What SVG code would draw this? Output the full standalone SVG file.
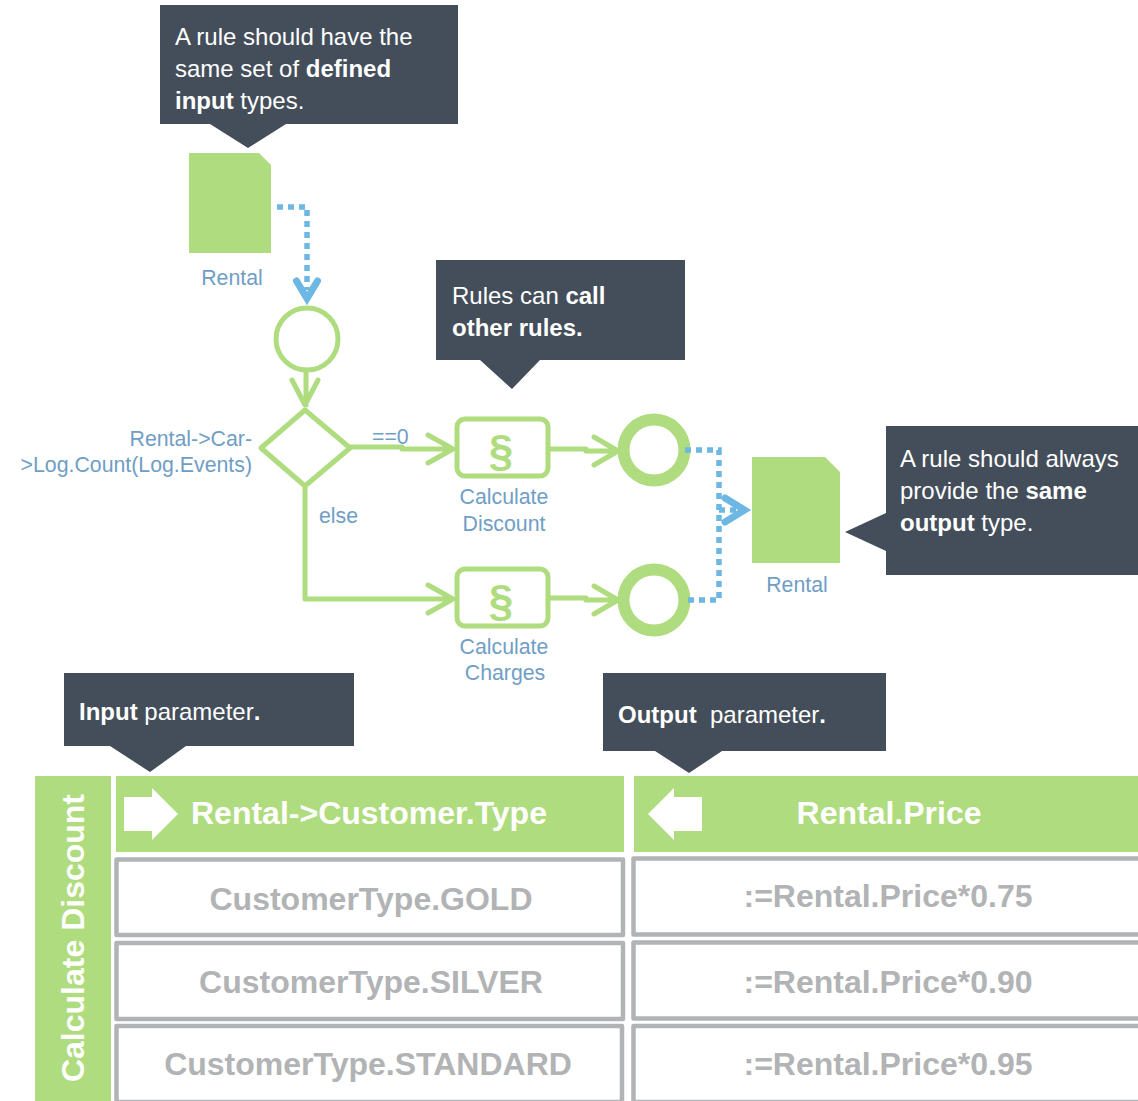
<svg xmlns="http://www.w3.org/2000/svg" width="1138" height="1101" viewBox="0 0 1138 1101">
<style>
text{font-family:"Liberation Sans",Arial,sans-serif;white-space:pre}
.call{fill:#434e5a}
.ct{fill:#fff;font-size:24px}
.ct tspan.b,.b{font-weight:700}
.lb{fill:#6f9ec5;font-size:21.3px}
.doc{fill:#afdc7e}
.g{fill:none;stroke:#afdc7e;stroke-width:5;stroke-linecap:round;stroke-linejoin:round}
.bl{fill:none;stroke:#6db7e3;stroke-width:5.5;stroke-dasharray:6 5}
.blh{fill:none;stroke:#6db7e3;stroke-width:7;stroke-linecap:round;stroke-linejoin:miter;stroke-miterlimit:8}
.cell{fill:#fff;stroke:#b1b3b5;stroke-width:4.5;stroke-linejoin:round}
.cv{fill:#b1b3b5;font-size:32px;font-weight:700;text-anchor:middle}
.hd{fill:#fff;font-size:32px;font-weight:700}
.sym{fill:#afdc7e;font-size:44px;font-weight:700;text-anchor:middle}
</style>
<g id="callout-input-rule"><path class="call" d="M160 5H458V124H286L248 148L210 124H160Z"/>
<text class="ct" x="175" y="45">A rule should have the</text><text class="ct" x="175" y="77">same set of <tspan class="b">defined</tspan></text><text class="ct" x="175" y="109"><tspan class="b">input</tspan> types.</text></g>
<g id="rental-in"><path class="doc" d="M189 153H259L271 165V253H189Z"/><text class="lb" x="232" y="285" text-anchor="middle">Rental</text></g>
<g id="start"><circle cx="307" cy="339" r="31" fill="#fff" stroke="#afdc7e" stroke-width="5"/></g>
<g id="decision"><path d="M305 410L350 448L305 486L261 448Z" fill="#fff" stroke="#afdc7e" stroke-width="5" stroke-linejoin="round"/>
<text class="lb" x="252" y="446" text-anchor="end">Rental-&gt;Car-</text><text class="lb" x="252" y="472" text-anchor="end">&gt;Log.Count(Log.Events)</text></g>
<g id="label-eq"><text class="lb" x="372" y="444">==0</text></g>
<g id="label-else"><text class="lb" x="319" y="523">else</text></g>
<g id="callout-call"><path class="call" d="M436 260H685V360H540L512 389L480 360H436Z"/>
<text class="ct" x="452" y="304">Rules can <tspan class="b">call</tspan></text><text class="ct b" x="452" y="336">other rules.</text></g>
<g id="task-discount"><rect x="457" y="419" width="91" height="57" rx="8" fill="#fff" stroke="#afdc7e" stroke-width="5"/>
<text class="sym" x="501" y="466">§</text>
<text class="lb" x="504" y="504" text-anchor="middle">Calculate</text><text class="lb" x="504" y="531" text-anchor="middle">Discount</text></g>
<g id="end-discount"><circle cx="654" cy="450" r="30.5" fill="#fff" stroke="#afdc7e" stroke-width="12"/></g>
<g id="task-charges"><rect x="457" y="569" width="91" height="57" rx="8" fill="#fff" stroke="#afdc7e" stroke-width="5"/>
<text class="sym" x="501" y="616">§</text>
<text class="lb" x="504" y="654" text-anchor="middle">Calculate</text><text class="lb" x="505" y="680" text-anchor="middle">Charges</text></g>
<g id="end-charges"><circle cx="654" cy="600" r="30.5" fill="#fff" stroke="#afdc7e" stroke-width="12"/></g>
<g id="rental-out"><path class="doc" d="M752 457H825L840 472V563H752Z"/><text class="lb" x="797" y="592" text-anchor="middle">Rental</text></g>
<g id="callout-output-rule"><path class="call" d="M886 426H1138V575H886V551L845 532L886 513Z"/>
<text class="ct" x="900" y="467">A rule should always</text><text class="ct" x="900" y="499">provide the <tspan class="b">same</tspan></text><text class="ct" x="900" y="531"><tspan class="b">output</tspan> type.</text></g>
<g id="callout-input-param"><path class="call" d="M64 673H354V746H186L150 772L110 746H64Z"/>
<text class="ct" x="79" y="720"><tspan class="b">Input</tspan> parameter<tspan class="b">.</tspan></text></g>
<g id="callout-output-param"><path class="call" d="M603 673H886V751H722L689 773L655 751H603Z"/>
<text class="ct" x="618" y="723"><tspan class="b">Output</tspan>  parameter<tspan class="b">.</tspan></text></g>
<g id="table-title"><rect x="35" y="776" width="76" height="325" fill="#afdc7e"/>
<text x="0" y="0" transform="translate(84 938) rotate(-90)" font-size="32" font-weight="700" fill="#fff" text-anchor="middle">Calculate Discount</text></g>
<g id="header-input"><rect x="116" y="776" width="508" height="76" fill="#afdc7e"/><path d="M124 797H152V788L178 814L152 840V831H124Z" fill="#fff"/>
<text class="hd" x="191" y="824">Rental-&gt;Customer.Type</text></g>
<g id="header-output"><rect x="634" y="776" width="504" height="76" fill="#afdc7e"/><path d="M702 797H674V788L648 814L674 840V831H702Z" fill="#fff"/>
<text class="hd" x="889" y="824" text-anchor="middle">Rental.Price</text></g>
<g id="row-gold"><rect class="cell" x="116.5" y="859.5" width="506.500" height="75.500"/><text class="cv" x="371" y="910">CustomerType.GOLD</text>
<rect class="cell" x="633.5" y="858.5" width="510" height="76"/><text class="cv" x="888" y="907">:=Rental.Price*0.75</text></g>
<g id="row-silver"><rect class="cell" x="116.5" y="943" width="506.500" height="76"/><text class="cv" x="371" y="993">CustomerType.SILVER</text>
<rect class="cell" x="633.5" y="942.500" width="510" height="76"/><text class="cv" x="888" y="993">:=Rental.Price*0.90</text></g>
<g id="row-standard"><rect class="cell" x="116.5" y="1026" width="505.500" height="76"/><text class="cv" x="368" y="1075">CustomerType.STANDARD</text>
<rect class="cell" x="633.5" y="1026" width="510" height="76"/><text class="cv" x="888" y="1075">:=Rental.Price*0.95</text></g>
<g id="connectors">
<path class="bl" d="M277 207H307V290"/>
<path class="blh" d="M296.500 281L307 298.500L317.500 281"/>
<path class="g" d="M306 372V405M292 380L305 405L318 380"/>
<path class="g" d="M350 447H402V449H452M428 435L453 449L428 463"/>
<path class="g" d="M305 486V599H452M428 585L453 599L428 613"/>
<path class="g" d="M549 449H586V451H616M594 437L618 451L594 465"/>
<path class="g" d="M549 598H586V600H616M594 586L618 600L594 614"/>
<path class="bl" d="M685 450H719V600H685"/>
<path class="bl" d="M719 510H739"/>
<path class="blh" d="M725 498L744.500 510L725 522"/>
</g>
</svg>
